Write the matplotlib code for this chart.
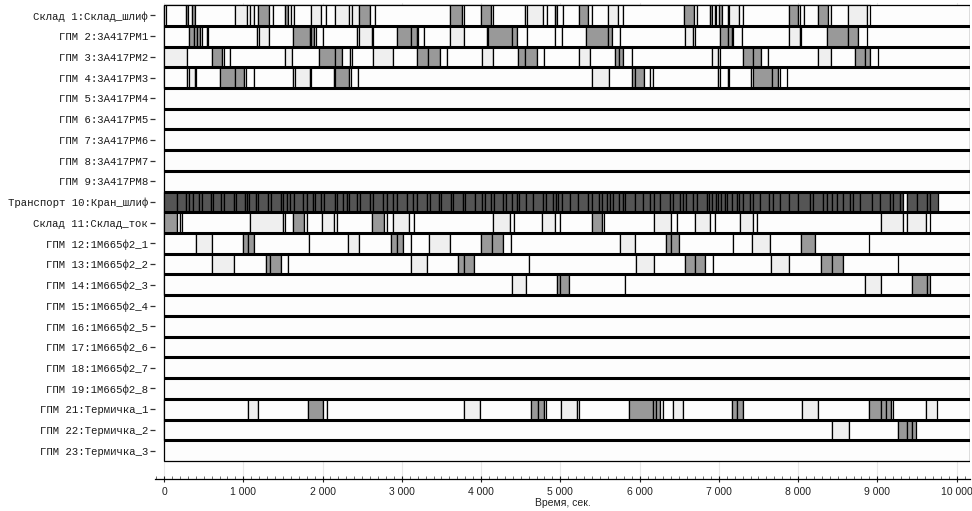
import numpy as np
import matplotlib
matplotlib.use("Agg")
from matplotlib import pyplot as plt
from matplotlib.ticker import MultipleLocator, FuncFormatter

# simulation horizon, sec
T_END = 10170

ROW_LABELS = [
    "Склад 1:Склад_шлиф", "ГПМ 2:3А417РМ1", "ГПМ 3:3А417РМ2", "ГПМ 4:3А417РМ3",
    "ГПМ 5:3А417РМ4", "ГПМ 6:3А417РМ5", "ГПМ 7:3А417РМ6", "ГПМ 8:3А417РМ7",
    "ГПМ 9:3А417РМ8", "Транспорт 10:Кран_шлиф", "Склад 11:Склад_ток",
    "ГПМ 12:1М665ф2_1", "ГПМ 13:1М665ф2_2", "ГПМ 14:1М665ф2_3", "ГПМ 15:1М665ф2_4",
    "ГПМ 16:1М665ф2_5", "ГПМ 17:1М665ф2_6", "ГПМ 18:1М665ф2_7", "ГПМ 19:1М665ф2_8",
    "ГПМ 21:Термичка_1", "ГПМ 22:Термичка_2", "ГПМ 23:Термичка_3",
]

# state codes: w - idle, l - setup, g - work
STATE_COLORS = {"w": "#fdfdfd", "l": "#efefef", "g": "#999999", "d": "#555555"}

# segment boundaries (sec) and state of each segment, per resource
sklad1_t = [0, 25, 280, 300, 350, 390, 900, 1050, 1080, 1130, 1190, 1320, 1370, 1530,
            1570, 1600, 1640, 1850, 1980, 2040, 2160, 2330, 2370, 2460, 2600, 2660,
            3610, 3760, 3780, 4000, 4120, 4150, 4550, 4580, 4780, 4830, 4930, 4960,
            5040, 5230, 5350, 5400, 5600, 5730, 5790, 6560, 6690, 6730, 6890, 6910,
            6950, 6970, 7000, 7040, 7110, 7130, 7260, 7310, 7890, 8000, 8020, 8070,
            8250, 8380, 8420, 8630, 8870, 8910]
sklad1_s = "wwgwgwlwlwgwwgwwwlwwlwlgwwgwwgwwwlwwgwwgwwlwwgwwgwgwgwwlwwgwwwgwwlw"

rm1_t = [0, 320, 380, 410, 450, 480, 540, 560, 1170, 1200, 1330, 1630, 1840, 1860,
         1890, 1920, 2010, 2440, 2460, 2620, 2640, 2940, 3110, 3190, 3210, 3280, 3610,
         3780, 4070, 4090, 4390, 4450, 4580, 4930, 5020, 5330, 5600, 5650, 5750, 6570,
         6680, 6700, 7010, 7110, 7160, 7180, 7290, 7890, 8020, 8040, 8360, 8630, 8760,
         8870]
rm1_s = "wgggwwgwwlwgwgwwwwlwwggwwwlwwggwwwwggwwlwwggwwwlwwggw"

rm2_t = [0, 290, 600, 730, 750, 830, 1530, 1620, 1950, 2160, 2250, 2350, 2370, 2640,
         2890, 3190, 3330, 3480, 3570, 4010, 4150, 4470, 4550, 4700, 4790, 5230, 5370,
         5690, 5740, 5790, 5900, 6910, 6990, 7010, 7310, 7430, 7530, 7620, 8250, 8420,
         8720, 8840, 8910, 9010]
rm2_s = "lwgwwwlwggwwwlwggwwlwggwwlwggwwlwwggwwlwggw"

rm3_t = [0, 290, 310, 390, 400, 710, 900, 1010, 1030, 1130, 1630, 1650, 1840, 1860,
         2150, 2160, 2330, 2360, 2450, 5400, 5610, 5900, 5940, 6050, 6130, 6170, 6990,
         7010, 7110, 7130, 7410, 7430, 7670, 7750, 7770, 7860]
rm3_s = "wwlwwggwwwwlwwwgwwwlwggwwwwwwwwggww"

# crane: travel boundaries, all segments busy except the idle gaps
kran_t = [0, 160, 278, 319, 362, 445, 476, 589, 614, 715, 757, 883, 908, 1022, 1051,
          1076, 1161, 1190, 1316, 1346, 1472, 1497, 1548, 1589, 1640, 1757, 1800, 1883,
          1905, 1977, 2018, 2157, 2179, 2254, 2305, 2338, 2438, 2473, 2599, 2640, 2766,
          2817, 2893, 2943, 3062, 3137, 3188, 3322, 3356, 3473, 3491, 3617, 3642, 3768,
          3797, 3923, 4008, 4049, 4121, 4163, 4280, 4314, 4386, 4449, 4482, 4567, 4659,
          4785, 4819, 4911, 4945, 4974, 5017, 5122, 5226, 5353, 5395, 5491, 5522, 5585,
          5626, 5668, 5744, 5786, 5815, 5942, 6039, 6131, 6181, 6257, 6383, 6417, 6509,
          6551, 6585, 6677, 6720, 6846, 6879, 6909, 6963, 6993, 7023, 7077, 7106, 7161,
          7225, 7258, 7300, 7392, 7434, 7519, 7636, 7686, 7771, 7888, 8002, 8149, 8191,
          8317, 8360, 8423, 8486, 8569, 8654, 8696, 8780, 8928, 9032, 9158, 9200, 9285,
          9326, 9369, 9495, 9621, 9663, 9768]
kran_idle = [9326]

sklad11_t = [0, 160, 200, 220, 1090, 1500, 1530, 1630, 1760, 1800, 1990, 2140, 2180,
             2620, 2770, 2810, 2890, 3090, 3150, 4150, 4370, 4420, 4770, 4930, 4990,
             5400, 5520, 5550, 6180, 6400, 6470, 6700, 6890, 6950, 7270, 7430, 7480,
             9050, 9320, 9370, 9610, 9660]
sklad11_s = "gwwwlwwgwwlwwgwwlwwlwwlwwgwwlwwlwwlwwlwlw"

tok1_t = [0, 400, 610, 1000, 1060, 1140, 1830, 2320, 2460, 2860, 2940, 3020, 3110, 3340,
          3610, 4000, 4140, 4280, 4380, 5750, 5940, 6330, 6400, 6500, 7180, 7420, 7640,
          8040, 8210, 8890]
tok1_s = "wlwggwwlwggwwlwggwwlwggwwlwgw"

tok2_t = [0, 610, 880, 1290, 1340, 1470, 1560, 3120, 3320, 3710, 3780, 3910, 4610, 5950,
          6180, 6570, 6700, 6830, 6930, 7660, 7890, 8290, 8430, 8570, 9260]
tok2_s = "wlwggwwlwggwwlwggwwlwggw"

tok3_t = [0, 4390, 4570, 4960, 5000, 5110, 5810, 8850, 9040, 9440, 9630, 9670]
tok3_s = "wlwggwwlwgg"

term1_t = [0, 1060, 1180, 1820, 2010, 2050, 3780, 3990, 4630, 4720, 4790, 4820, 5010,
           5210, 5230, 5870, 6170, 6210, 6260, 6290, 6420, 6550, 7170, 7230, 7300, 8050,
           8250, 8890, 9050, 9110, 9170, 9200, 9620, 9750]
term1_s = "wlwgwwlwggwwlwwgggwwlwggwlwgggwwl"

term2_t = [0, 8430, 8640, 9260, 9370, 9440, 9490]
term2_s = "wlwggg"

kran_s = "".join("w" if t in kran_idle else "d" for t in kran_t[:-1])

SCHEDULE = {
    0: (sklad1_t, sklad1_s),
    1: (rm1_t, rm1_s),
    2: (rm2_t, rm2_s),
    3: (rm3_t, rm3_s),
    9: (kran_t, kran_s),
    10: (sklad11_t, sklad11_s),
    11: (tok1_t, tok1_s),
    12: (tok2_t, tok2_s),
    13: (tok3_t, tok3_s),
    19: (term1_t, term1_s),
    20: (term2_t, term2_s),
}


def plot_gantt():
    n = len(ROW_LABELS)
    fig = plt.figure(figsize=(9.72, 5.11), dpi=100)
    ax = fig.add_axes([0.1595, 0.0626, 0.8385, 0.9315])

    # every resource lane is an idle bar first
    ax.barh(np.arange(n), T_END, left=0, height=1.0, color=STATE_COLORS["w"],
            edgecolor="black", linewidth=0.9, zorder=2)

    for row, (t, s) in SCHEDULE.items():
        for i, state in enumerate(s):
            ax.barh(row, t[i + 1] - t[i], left=t[i], height=1.0,
                    color=STATE_COLORS[state], edgecolor="black",
                    linewidth=0.9, zorder=3)

    ax.hlines(np.arange(n - 1) + 0.5, 0, T_END, color="black", linewidth=2.2, zorder=4)

    ax.set_xlim(-114, T_END)
    ax.set_ylim(22.37, -0.6)

    ax.set_yticks(np.arange(n))
    ax.set_yticklabels(ROW_LABELS, family="Liberation Mono", fontsize=7.7, color="#1a1a1a")
    ax.tick_params(axis="y", direction="out", length=3.5, width=0.9, color="#333333", pad=1.5)

    ax.xaxis.set_major_locator(MultipleLocator(1000))
    ax.xaxis.set_minor_locator(MultipleLocator(100))
    ax.xaxis.set_major_formatter(FuncFormatter(lambda v, p: f"{int(v):,}".replace(",", " ")))
    ax.tick_params(axis="x", which="major", direction="inout", length=5, width=0.8,
                   labelsize=7.5, colors="#222222", pad=3)
    ax.tick_params(axis="x", which="minor", direction="in", length=2, width=0.6, color="#555555")
    for lab in ax.get_xticklabels():
        lab.set_family("Liberation Sans")
    ax.set_xlabel("Время, сек.", family="Liberation Sans", fontsize=7.5, color="#222222", labelpad=1)

    ax.grid(axis="x", color="#e8e8e8", linewidth=0.8, zorder=0)
    ax.set_axisbelow(True)
    for side in ("top", "right", "left"):
        ax.spines[side].set_visible(False)
    ax.spines["bottom"].set_linewidth(0.9)

    fig.savefig("out.png", dpi=100)


if __name__ == "__main__":
    plot_gantt()
